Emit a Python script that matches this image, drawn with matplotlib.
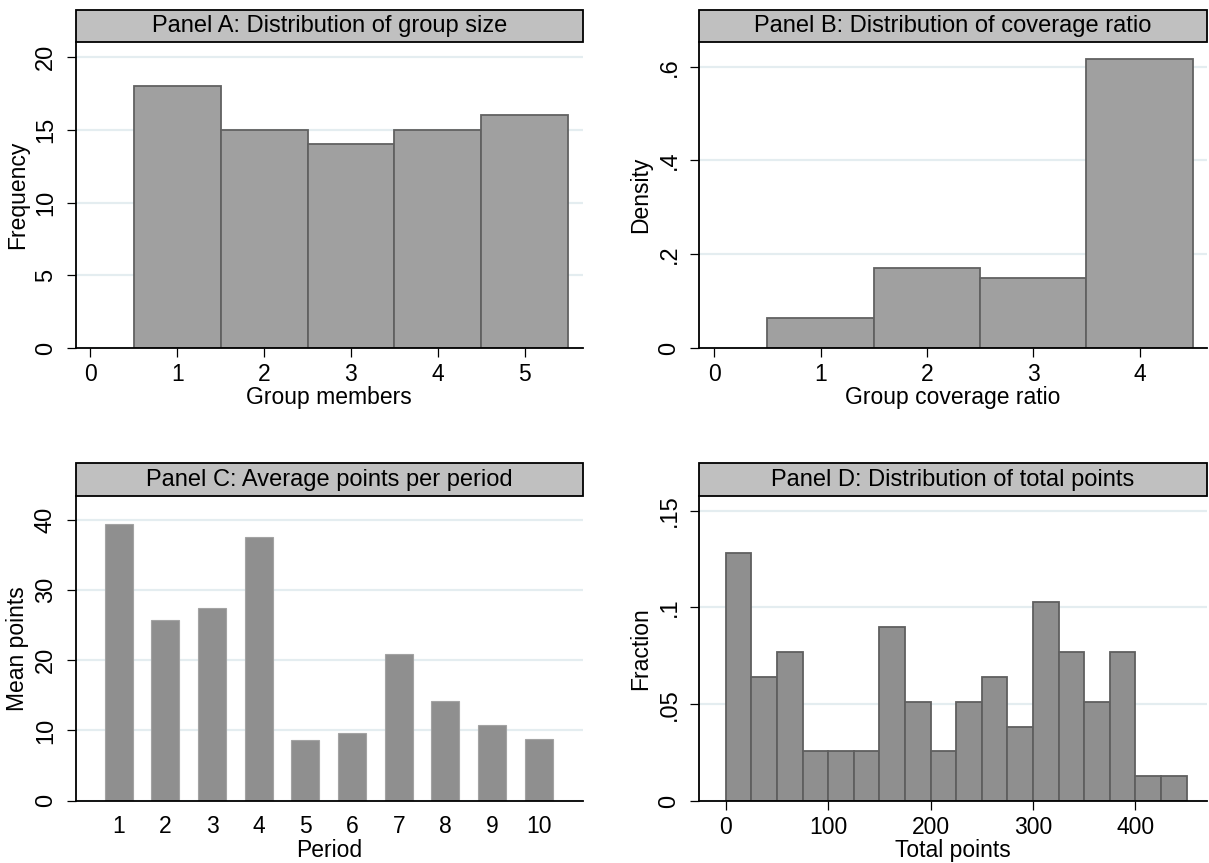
import matplotlib
matplotlib.use("Agg")
import matplotlib.pyplot as plt
from matplotlib.patches import Rectangle

plt.rcParams['font.family'] = ['Liberation Sans', 'DejaVu Sans']

# ---------------- data ----------------
group_members = [1, 2, 3, 4, 5]
group_freq = [18, 15, 14, 15, 16]

coverage_ratio = [1, 2, 3, 4]
coverage_density = [0.064, 0.171, 0.149, 0.616]

periods = [1, 2, 3, 4, 5, 6, 7, 8, 9, 10]
mean_points = [39.4, 25.7, 27.4, 37.5, 8.65, 9.6, 20.9, 14.25, 10.8, 8.8]

total_bin_left = [0, 25, 50, 75, 100, 125, 150, 175, 200, 225,
                  250, 275, 300, 325, 350, 375, 400, 425]
total_fraction = [0.128, 0.064, 0.077, 0.026, 0.026, 0.026, 0.090, 0.051, 0.026,
                  0.051, 0.064, 0.038, 0.103, 0.077, 0.051, 0.077, 0.013, 0.013]
total_bin_width = 25

titles = ["Panel A: Distribution of group size",
          "Panel B: Distribution of coverage ratio",
          "Panel C: Average points per period",
          "Panel D: Distribution of total points"]

# ---------------- layout ----------------
W, H = 1209, 863
fig = plt.figure(figsize=(W / 100, H / 100), dpi=100)


def add_axes(x0, x1, ytop, ybot):
    return fig.add_axes([x0 / W, 1 - ybot / H, (x1 - x0) / W, (ybot - ytop) / H])


axA = add_axes(75.7, 582.7, 42.3, 348.0)
axB = add_axes(699.3, 1206.7, 42.3, 348.0)
axC = add_axes(75.7, 582.7, 496.0, 800.7)
axD = add_axes(699.3, 1206.7, 496.0, 801.0)

GRID = '#e4edf0'
TICK_FS_X = 16.5
TICK_FS_Y = 17
LABEL_FS = 16.5
TITLE_FS = 17


def style(ax, title, box_px):
    for s in ['top', 'right']:
        ax.spines[s].set_visible(False)
    for s in ['left', 'bottom']:
        ax.spines[s].set_linewidth(1.3)
        ax.spines[s].set_color('black')
    ax.tick_params(axis='both', length=6.5, width=0.9, color='black')
    ax.tick_params(axis='x', labelsize=TICK_FS_X, pad=4)
    ax.tick_params(axis='y', labelsize=TICK_FS_Y, pad=7)
    for lab in ax.get_yticklabels():
        lab.set_rotation(90)
        lab.set_va('center')
    ax.set_axisbelow(True)
    ax.yaxis.grid(True, color=GRID, linewidth=1.6)
    ax.xaxis.grid(False)
    # title box
    bbox = ax.get_position()
    hfrac = (box_px / H) / bbox.height
    rect = Rectangle((0, 1), 1, hfrac, transform=ax.transAxes, clip_on=False,
                     facecolor='#c0c0c0', edgecolor='black', linewidth=1.3, zorder=5)
    ax.add_patch(rect)
    ax.text(0.5, 1 + hfrac / 2, title, transform=ax.transAxes, ha='center',
            va='center', fontsize=TITLE_FS, color='black', zorder=6)
    ax.yaxis.set_label_coords(-0.092, 0.5)
    ax.xaxis.set_label_coords(0.5, -0.125)


# Panel A
axA.bar(group_members, group_freq, width=1.0, color='#a0a0a0',
        edgecolor='#616161', linewidth=1.3, zorder=2)
axA.set_xlim(-0.168, 5.667)
axA.set_ylim(0, 21.03)
axA.set_xticks([0, 1, 2, 3, 4, 5])
axA.set_yticks([0, 5, 10, 15, 20])
axA.set_xlabel("Group members", fontsize=LABEL_FS)
axA.set_ylabel("Frequency", fontsize=LABEL_FS)
style(axA, titles[0], 32)

# Panel B
axB.bar(coverage_ratio, coverage_density, width=1.0, color='#a0a0a0',
        edgecolor='#616161', linewidth=1.3, zorder=2)
axB.set_xlim(-0.141, 4.632)
axB.set_ylim(0, 0.652)
axB.set_xticks([0, 1, 2, 3, 4])
axB.set_yticks([0, 0.2, 0.4, 0.6])
axB.set_yticklabels(["0", ".2", ".4", ".6"])
axB.set_xlabel("Group coverage ratio", fontsize=LABEL_FS)
axB.set_ylabel("Density", fontsize=LABEL_FS)
style(axB, titles[1], 32)

# Panel C
axC.bar(periods, mean_points, width=0.6, color='#8f8f8f',
        edgecolor='#a3a3a3', linewidth=0.8, zorder=2)
axC.set_xlim(0.077, 10.94)
axC.set_ylim(0, 43.4)
axC.set_xticks(periods)
axC.set_yticks([0, 10, 20, 30, 40])
axC.set_xlabel("Period", fontsize=LABEL_FS)
axC.set_ylabel("Mean points", fontsize=LABEL_FS)
style(axC, titles[2], 32.7)
axC.tick_params(axis='x', length=0, pad=10)

# Panel D
axD.bar(total_bin_left, total_fraction, width=total_bin_width, align='edge',
        color='#8f8f8f', edgecolor='#5f5f5f', linewidth=1.3, zorder=2)
axD.set_xlim(-25.9, 469.6)
axD.set_ylim(0, 0.1575)
axD.set_xticks([0, 100, 200, 300, 400])
axD.set_yticks([0, 0.05, 0.1, 0.15])
axD.set_yticklabels(["0", ".05", ".1", ".15"])
axD.set_xlabel("Total points", fontsize=LABEL_FS)
axD.set_ylabel("Fraction", fontsize=LABEL_FS)
style(axD, titles[3], 32.7)

fig.savefig("out.png", dpi=100, facecolor='white')
